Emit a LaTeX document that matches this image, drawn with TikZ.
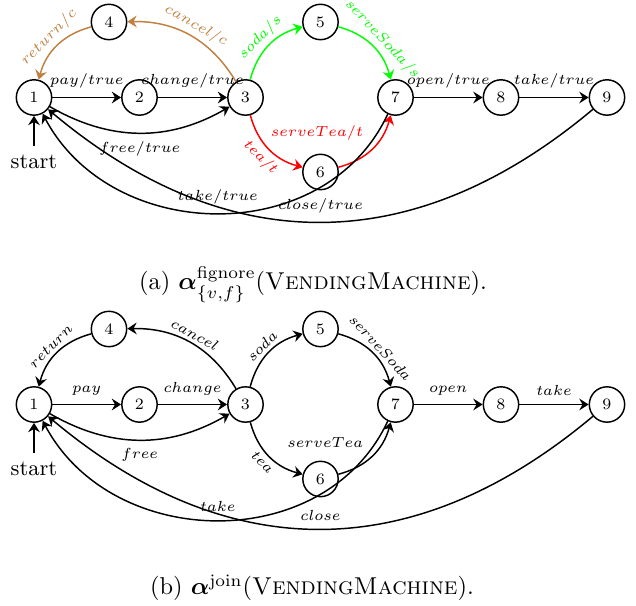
\documentclass[tikz,border=0pt]{standalone}
\usepackage{amsmath}
\usepackage{bm}
\usetikzlibrary{arrows.meta}
\begin{document}
\begin{tikzpicture}[x=0.41pt,y=0.41pt,
  state/.style={circle,draw,line width=0.6pt,minimum size=14.5pt,inner sep=0pt,font=\fontsize{6.5}{7}\selectfont},
  tr/.style={->,line width=0.6pt},
  lbl/.style={font=\fontsize{6.3}{7.3}\selectfont},
  slbl/.style={lbl,sloped,inner sep=1.5pt},
  startlbl/.style={anchor=north,font=\small},
  caplbl/.style={anchor=base,font=\normalsize},
  >={Stealth[length=3.8pt,width=4.8pt,inset=1.3pt]}
]
\useasboundingbox (0,0) rectangle (636,-606);

% ---------- (a) ----------
\node[state] (a1) at (34,-97.5) {1};
\node[state] (a2) at (139.5,-97.5) {2};
\node[state] (a3) at (245.5,-97.5) {3};
\node[state] (a4) at (109,-22) {4};
\node[state] (a5) at (320.5,-22) {5};
\node[state] (a6) at (320.5,-172) {6};
\node[state] (a7) at (395.5,-97.5) {7};
\node[state] (a8) at (501,-97.5) {8};
\node[state] (a9) at (607,-97.5) {9};
\node[startlbl] (as) at (34,-146) {start};
\draw[tr] (as) -- (a1);
\draw[tr] (a1) -- node[lbl,above]{$pay/true$} (a2);
\draw[tr] (a2) -- node[lbl,above]{$change/true$} (a3);
\draw[tr] (a1) to[bend right] node[lbl,below]{$free/true$} (a3);
\draw[tr,brown] (a3) to[bend right] node[slbl,above]{$cancel/c$} (a4);
\draw[tr,brown] (a4) to[bend right] node[slbl,above]{$return/c$} (a1);
\draw[tr,green] (a3) to[bend left] node[slbl,above]{$soda/s$} (a5);
\draw[tr,green] (a5) to[bend left] node[slbl,above,pos=0.53]{$serveSoda/s$} (a7);
\draw[tr,red] (a3) to[bend right] node[slbl,below]{$tea/t$} (a6);
\draw[tr,red] (a6) to[bend right] node[lbl,above left]{$serveTea/t$} (a7);
\draw[tr] (a7) -- node[lbl,above]{$open/true$} (a8);
\draw[tr] (a8) -- node[lbl,above]{$take/true$} (a9);
\draw[tr] (a7) to[out=245,in=-62,looseness=1.1] node[lbl,above]{$take/true$} (a1);
\draw[tr] (a9) to[out=220,in=-40,looseness=1.1] node[lbl,above]{$close/true$} (a1);
\node[caplbl] (capa) at (313,-290) {(a) $\bm{\alpha}^{\mathrm{fignore}}_{\{v,f\}}$(\textsc{VendingMachine}).};

% ---------- (b) ----------
\begin{scope}[yshift=-307*0.41pt]
\node[state] (b1) at (34,-97.5) {1};
\node[state] (b2) at (139.5,-97.5) {2};
\node[state] (b3) at (245.5,-97.5) {3};
\node[state] (b4) at (109,-22) {4};
\node[state] (b5) at (320.5,-22) {5};
\node[state] (b6) at (320.5,-172) {6};
\node[state] (b7) at (395.5,-97.5) {7};
\node[state] (b8) at (501,-97.5) {8};
\node[state] (b9) at (607,-97.5) {9};
\node[startlbl] (bs) at (34,-146) {start};
\draw[tr] (bs) -- (b1);
\draw[tr] (b1) -- node[lbl,above]{$pay$} (b2);
\draw[tr] (b2) -- node[lbl,above]{$change$} (b3);
\draw[tr] (b1) to[bend right] node[lbl,below]{$free$} (b3);
\draw[tr] (b3) to[bend right] node[slbl,above]{$cancel$} (b4);
\draw[tr] (b4) to[bend right] node[slbl,above]{$return$} (b1);
\draw[tr] (b3) to[bend left] node[slbl,above]{$soda$} (b5);
\draw[tr] (b5) to[bend left] node[slbl,above,pos=0.53]{$serveSoda$} (b7);
\draw[tr] (b3) to[bend right] node[slbl,below]{$tea$} (b6);
\draw[tr] (b6) to[bend right] node[lbl,above left]{$serveTea$} (b7);
\draw[tr] (b7) -- node[lbl,above]{$open$} (b8);
\draw[tr] (b8) -- node[lbl,above]{$take$} (b9);
\draw[tr] (b7) to[out=245,in=-62,looseness=1.1] node[lbl,above]{$take$} (b1);
\draw[tr] (b9) to[out=220,in=-40,looseness=1.1] node[lbl,above]{$close$} (b1);
\end{scope}
\node[caplbl] (capb) at (312,-595) {(b) $\bm{\alpha}^{\mathrm{join}}$(\textsc{VendingMachine}).};
\end{tikzpicture}
\end{document}
